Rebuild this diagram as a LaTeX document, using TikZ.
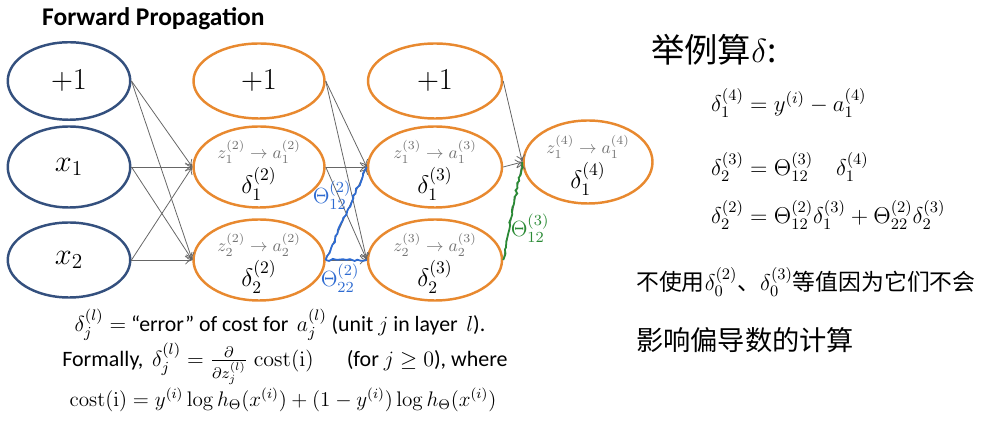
\RequirePackage{fix-cm}
\documentclass[tikz,border=0pt]{standalone}
\usepackage{amsmath,amssymb}
\usepackage[no-math]{fontspec}
\setmainfont{Carlito}
\newfontfamily\cjk{Noto Sans CJK SC}
\usepackage{tikz}
\usetikzlibrary{arrows.meta,positioning,shapes.geometric,decorations.pathmorphing}
\definecolor{capablue}{HTML}{34507E}
\definecolor{capanaranja}{HTML}{E8892F}
\definecolor{tinta}{HTML}{2E6BD1}
\definecolor{tintaverde}{HTML}{2A8A35}

\begin{document}
\begin{tikzpicture}[
	entrada/.style={ellipse,draw=capablue,line width=1.4pt,minimum width=2.45cm,minimum height=1.55cm,
		inner sep=0pt,align=center,font=\fontsize{17.3}{20}\selectfont},
	oculta/.style={entrada,draw=capanaranja,minimum width=2.62cm,minimum height=1.62cm},
	zeta/.style={font=\fontsize{10}{12}\selectfont,text=black!55},
	delta/.style={font=\fontsize{14.4}{16}\selectfont},
	enlace/.style={draw=black!60,line width=0.45pt,-{To[length=4pt,width=5pt]}},
	trazo/.style={line width=1pt,decorate,decoration={random steps,segment length=2pt,amplitude=0.7pt}},
	mano/.style={anchor=west,font=\fontsize{13}{16}\selectfont}
	]
	\useasboundingbox (0,0) rectangle (19.72,8.46);
	\node[anchor=west,font=\bfseries\fontsize{14.5}{16}\selectfont] (tit) at (0.72,8.08) {Forward Propagation};

	\node[entrada] (b1) at (1.38,6.84) {$+1$};
	\node[entrada,minimum height=1.62cm] (x1) at (1.38,5.12) {$x_1$};
	\node[entrada,minimum height=1.5cm] (x2) at (1.38,3.26) {$x_2$};

	\node[oculta,minimum height=1.5cm] (b2) at (5.18,6.84) {$+1$};
	\node[oculta] (h21) at (5.18,5.12) {};
	\node[oculta] (h22) at (5.18,3.26) {};

	\node[oculta,minimum width=2.68cm,minimum height=1.5cm] (b3) at (8.70,6.84) {$+1$};
	\node[oculta,minimum width=2.68cm] (h31) at (8.70,5.12) {};
	\node[oculta,minimum width=2.68cm] (h32) at (8.70,3.26) {};

	\node[oculta,minimum width=2.58cm,minimum height=1.66cm] (o41) at (11.76,5.22) {};

	\node[zeta] at ([yshift=0.3cm]h21.center) {$z^{(2)}_1\rightarrow a^{(2)}_1$};
	\node[zeta] at ([yshift=0.3cm]h22.center) {$z^{(2)}_2\rightarrow a^{(2)}_2$};
	\node[zeta] at ([yshift=0.3cm]h31.center) {$z^{(3)}_1\rightarrow a^{(3)}_1$};
	\node[zeta] at ([yshift=0.3cm]h32.center) {$z^{(3)}_2\rightarrow a^{(3)}_2$};
	\node[zeta] at ([yshift=0.3cm]o41.center) {$z^{(4)}_1\rightarrow a^{(4)}_1$};
	\node[delta] at ([yshift=-0.34cm]h21.center) {$\delta^{(2)}_1$};
	\node[delta] at ([yshift=-0.34cm]h22.center) {$\delta^{(2)}_2$};
	\node[delta] at ([yshift=-0.34cm]h31.center) {$\delta^{(3)}_1$};
	\node[delta] at ([yshift=-0.34cm]h32.center) {$\delta^{(3)}_2$};
	\node[delta] at ([yshift=-0.34cm]o41.center) {$\delta^{(4)}_1$};

	\foreach \a in {b1,x1,x2} \foreach \b in {h21,h22} \draw[enlace] (\a.east) -- (\b.west);
	\foreach \a in {b2,h21,h22} \foreach \b in {h31,h32} \draw[enlace] (\a.east) -- (\b.west);
	\foreach \a in {b3,h31,h32} \draw[enlace] (\a.east) -- (o41.west);

	\draw[trazo,tinta] (h22.east) -- (h31.west);
	\draw[trazo,tinta] (h22.east) -- (h32.west);
	\draw[trazo,tintaverde] (h32.east) -- (o41.west);
	\node[text=tinta,font=\fontsize{12.5}{15}\selectfont] (t1) at (6.64,4.56) {$\Theta^{(2)}_{12}$};
	\node[text=tinta,font=\fontsize{12.5}{15}\selectfont] (t2) at (6.8,2.9) {$\Theta^{(2)}_{22}$};
	\node[text=tintaverde,font=\fontsize{12.5}{15}\selectfont] (t3) at (10.6,3.9) {$\Theta^{(3)}_{12}$};

	\node[font=\fontsize{12.4}{15}\selectfont] (def) at (5.6,1.96) {$\delta^{(l)}_j=$ ``error'' of cost for\, $a^{(l)}_j$ (unit $j$ in layer\, $l$).};
	\node[font=\fontsize{12.5}{15}\selectfont] (form) at (5.7,1.18) {Formally,\, $\delta^{(l)}_j=\frac{\partial}{\partial z^{(l)}_j}\;\mathrm{cost(i)}$\quad\; (for $j\geq 0$), where};
	\node[font=\fontsize{12}{14}\selectfont] (cost) at (5.66,0.46) {$\mathrm{cost(i)}=y^{(i)}\log h_\Theta(x^{(i)})+(1-y^{(i)})\log h_\Theta(x^{(i)})$};

	\node[anchor=west,font=\cjk\fontsize{19}{22}\selectfont] (ej) at (12.9,7.46) {举例算$\delta$:};
	\node[mano] (e1) at (14.1,6.4) {$\delta^{(4)}_1 = y^{(i)}-a^{(4)}_1$};
	\node[mano] (e2) at (14.1,5.12) {$\delta^{(3)}_2 = \Theta^{(3)}_{12}\quad\delta^{(4)}_1$};
	\node[mano] (e3) at (14.1,4.16) {$\delta^{(2)}_2 = \Theta^{(2)}_{12}\delta^{(3)}_1+\Theta^{(2)}_{22}\delta^{(3)}_2$};
	\node[anchor=west,font=\cjk\fontsize{13}{16}\selectfont] (n1) at (12.6,2.82) {不使用$\delta^{(2)}_0$、$\delta^{(3)}_0$等值因为它们不会};
	\node[anchor=west,font=\cjk\fontsize{15.5}{18}\selectfont] (n2) at (12.6,1.66) {影响偏导数的计算};
\end{tikzpicture}
\end{document}
